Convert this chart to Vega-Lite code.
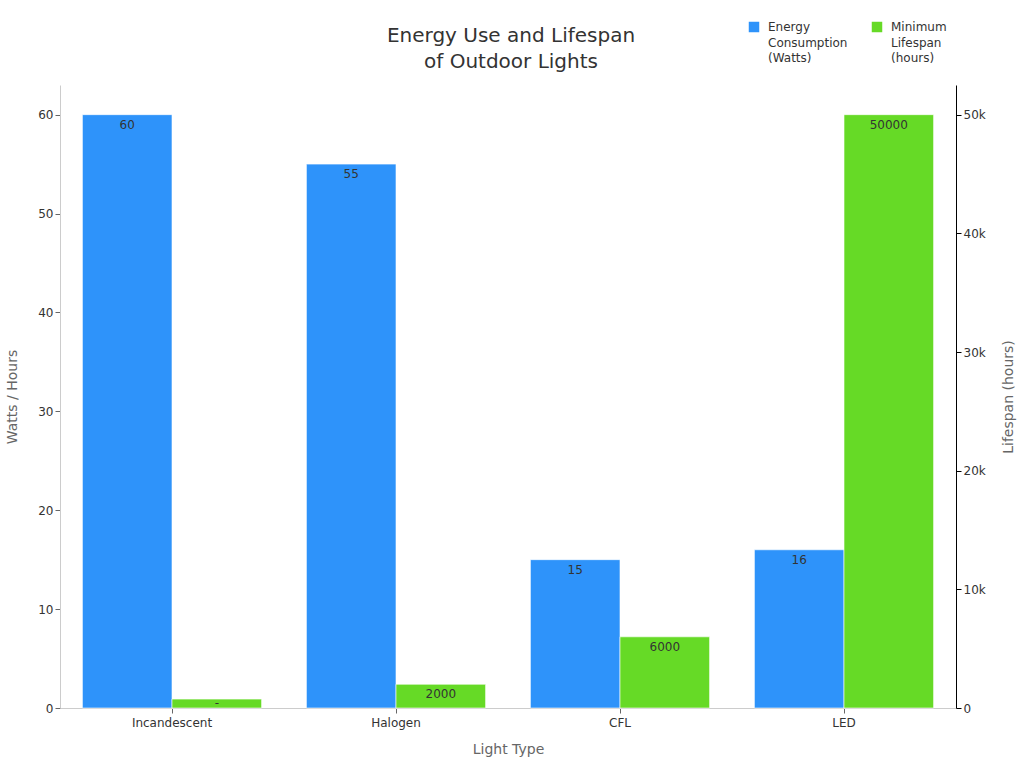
{
  "$schema": "https://vega.github.io/schema/vega-lite/v6.json",
  "width": 896,
  "height": 623,
  "autosize": {"type": "none"},
  "padding": {"left": 60, "top": 85, "right": 68, "bottom": 60},
  "background": "white",
  "title": {
    "text": ["Energy Use and Lifespan", "of Outdoor Lights"],
    "fontSize": 20,
    "fontWeight": "normal",
    "color": "#333333",
    "lineHeight": 26,
    "anchor": "middle",
    "dx": 3,
    "offset": -51
  },
  "config": {
    "font": "DejaVu Sans",
    "view": {"stroke": null},
    "style": {"guide-label": {"lineHeight": 15.5}},
    "axis": {
      "labelFontSize": 12,
      "labelColor": "#333333",
      "titleFontSize": 14,
      "titleFontWeight": "normal",
      "titleColor": "#666666",
      "grid": false,
      "tickColor": "#666666",
      "domainColor": "#cccccc"
    },
    "legend": {
      "labelFontSize": 12,
      "labelColor": "#333333"
    }
  },
  "data": {
    "values": [
      {"type": "Incandescent", "watts": 60, "hours": 750, "hoursLabel": "-"},
      {"type": "Halogen", "watts": 55, "hours": 2000, "hoursLabel": "2000"},
      {"type": "CFL", "watts": 15, "hours": 6000, "hoursLabel": "6000"},
      {"type": "LED", "watts": 16, "hours": 50000, "hoursLabel": "50000"}
    ]
  },
  "encoding": {
    "x": {
      "field": "type",
      "type": "nominal",
      "sort": null,
      "title": "Light Type",
      "scale": {"paddingInner": 0.2, "paddingOuter": 0.1},
      "axis": {"labelAngle": 0, "labelPadding": 4, "titlePadding": 14}
    }
  },
  "layer": [
    {
      "encoding": {
        "y": {
          "field": "watts",
          "type": "quantitative",
          "title": "Watts / Hours",
          "scale": {"domain": [0, 63], "nice": false},
          "axis": {"values": [0, 10, 20, 30, 40, 50, 60], "titlePadding": 18}
        },
        "xOffset": {"datum": "Energy Consumption (Watts)"}
      },
      "layer": [
        {
          "mark": {"type": "bar", "stroke": "#ffffff", "strokeOpacity": 0.6, "strokeWidth": 1},
          "encoding": {
            "color": {
              "datum": "Energy Consumption (Watts)",
              "type": "nominal",
              "scale": {
                "domain": ["Energy Consumption (Watts)", "Minimum Lifespan (hours)"],
                "range": ["#2E93FA", "#66DA26"]
              },
              "legend": {
                "title": null,
                "orient": "none",
                "direction": "horizontal",
                "legendX": 688,
                "legendY": -64,
                "symbolType": "square",
                "symbolSize": 110,
                "symbolStrokeWidth": 0,
                "columnPadding": 23,
                "labelOffset": 8,
                "labelExpr": "datum.label == 'Energy Consumption (Watts)' ? ['Energy', 'Consumption', '(Watts)'] : ['Minimum', 'Lifespan', '(hours)']"
              }
            }
          }
        },
        {
          "mark": {"type": "text", "baseline": "middle", "dy": 10, "fontSize": 12, "color": "#333333"},
          "encoding": {"text": {"field": "watts", "type": "quantitative"}}
        }
      ]
    },
    {
      "encoding": {
        "y": {
          "field": "hours",
          "type": "quantitative",
          "title": "Lifespan (hours)",
          "scale": {"domain": [0, 52500], "nice": false},
          "axis": {
            "orient": "right",
            "values": [0, 10000, 20000, 30000, 40000, 50000],
            "labelExpr": "datum.value == 0 ? '0' : (datum.value / 1000) + 'k'",
            "domainColor": "#000000",
            "tickColor": "#000000",
            "titleAngle": 270,
            "titlePadding": 30
          }
        },
        "xOffset": {"datum": "Minimum Lifespan (hours)"}
      },
      "layer": [
        {
          "mark": {"type": "bar", "stroke": "#ffffff", "strokeOpacity": 0.6, "strokeWidth": 1},
          "encoding": {
            "color": {"datum": "Minimum Lifespan (hours)", "type": "nominal"}
          }
        },
        {
          "transform": [{"filter": "datum.hours >= 1000"}],
          "mark": {"type": "text", "baseline": "middle", "dy": 10, "fontSize": 12, "color": "#333333"},
          "encoding": {"text": {"field": "hoursLabel", "type": "nominal"}}
        },
        {
          "transform": [{"filter": "datum.hours < 1000"}],
          "mark": {"type": "text", "baseline": "middle", "dy": 4, "fontSize": 12, "color": "#333333"},
          "encoding": {"text": {"field": "hoursLabel", "type": "nominal"}}
        }
      ]
    }
  ],
  "resolve": {"scale": {"y": "independent"}}
}
